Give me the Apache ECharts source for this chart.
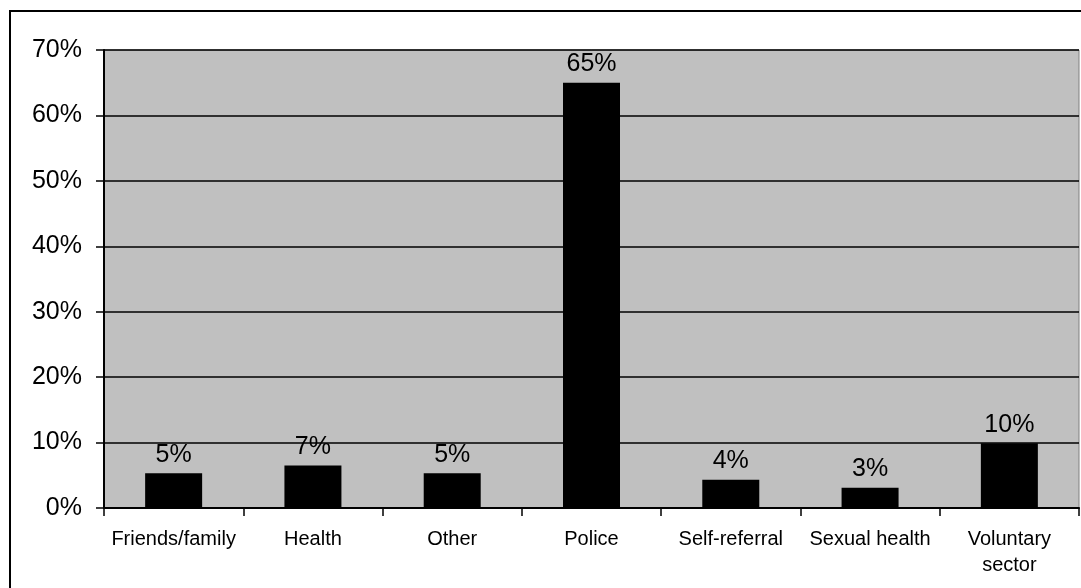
<!DOCTYPE html>
<html>
<head>
<meta charset="utf-8">
<script src="https://cdn.jsdelivr.net/npm/echarts@6/dist/echarts.min.js"></script>
<style>
  html, body { margin: 0; padding: 0; background: #fff; }
  #chart { width: 1081px; height: 588px; }
</style>
</head>
<body>
<div id="chart"></div>
<script>
// 数据
const categories = ['Friends/family', 'Health', 'Other', 'Police', 'Self-referral', 'Sexual health', 'Voluntary\nsector']
const shares = [5.3, 6.5, 5.3, 65, 4.3, 3.1, 9.9]
const shareLabels = ['5%', '7%', '5%', '65%', '4%', '3%', '10%']
const yTicks = [0, 10, 20, 30, 40, 50, 60, 70]

const font = '"Liberation Sans", Arial, sans-serif'

const chart = echarts.init(document.getElementById('chart'))

chart.setOption({
  animation: false,
  textStyle: { fontFamily: font },
  graphic: [
    {
      // 外边框
      type: 'rect',
      shape: { x: 10, y: 11, width: 1100, height: 600 },
      style: { fill: 'none', stroke: '#000', lineWidth: 2 },
      silent: true
    }
  ],
  grid: {
    left: 104,
    right: 2,
    top: 50,
    bottom: 80,
    show: true,
    backgroundColor: '#C0C0C0',
    borderColor: '#808080',
    borderWidth: 1
  },
  xAxis: {
    type: 'category',
    data: categories,
    axisLine: { lineStyle: { color: '#000', width: 2 } },
    axisTick: { show: true, length: 8, lineStyle: { color: '#000', width: 1.5 } },
    axisLabel: {
      color: '#000',
      fontSize: 20,
      lineHeight: 26,
      margin: 18,
      interval: 0
    }
  },
  yAxis: {
    type: 'value',
    min: yTicks[0],
    max: yTicks[yTicks.length - 1],
    interval: 10,
    axisLine: { show: true, lineStyle: { color: '#000', width: 2 } },
    axisTick: { show: true, length: 8, lineStyle: { color: '#000', width: 1.5 } },
    axisLabel: {
      color: '#000',
      fontSize: 25,
      margin: 22,
      formatter: '{value}%'
    },
    splitLine: { lineStyle: { color: '#000', width: 1.5 } }
  },
  series: [
    {
      type: 'bar',
      data: shares,
      barWidth: 57,
      itemStyle: { color: '#000' },
      label: {
        show: true,
        position: 'top',
        distance: 6,
        color: '#000',
        fontSize: 25,
        formatter: (p) => shareLabels[p.dataIndex]
      }
    }
  ]
})
</script>
</body>
</html>
